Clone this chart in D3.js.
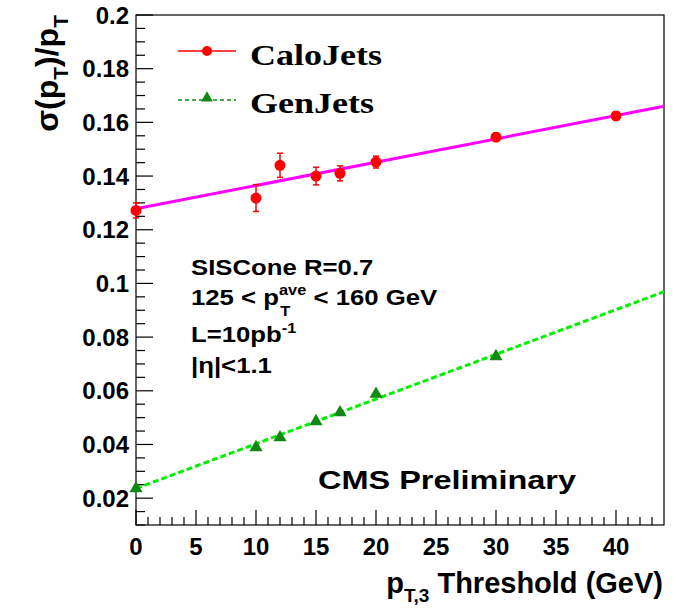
<!DOCTYPE html>
<html>
<head>
<meta charset="utf-8">
<script src="https://cdn.jsdelivr.net/npm/d3@7"></script>
<style>
  body { margin: 0; background: #fff; }
  text { font-family: "Liberation Sans", Arial, sans-serif; font-weight: bold; fill: #000; }
</style>
</head>
<body>
<div id="chart"></div>
<script>
// CaloJets points
const caloX = [0, 10, 12, 15, 17, 20, 30, 40];
const caloY = [0.1272, 0.1318, 0.1440, 0.1400, 0.1410, 0.1452, 0.1545, 0.1624];
const caloErr = [0.0028, 0.0050, 0.0045, 0.0033, 0.0028, 0.0022, 0.0015, 0.0015];
// GenJets points
const genX = [0, 10, 12, 15, 17, 20, 30];
const genY = [0.0236, 0.0389, 0.0426, 0.0486, 0.0519, 0.0588, 0.0728];
// linear fit end points
const caloFit = [[0, 0.1278], [44, 0.1660]];
const genFit = [[0, 0.0236], [44, 0.0969]];

const yTicks = [0.02, 0.04, 0.06, 0.08, 0.1, 0.12, 0.14, 0.16, 0.18, 0.2];
const xTicks = [0, 5, 10, 15, 20, 25, 30, 35, 40];

const W = 676, H = 613;
const margin = { top: 15, right: 12, bottom: 88, left: 136 };
const width = W - margin.left - margin.right;
const height = H - margin.top - margin.bottom;

const svg = d3.select("#chart").append("svg")
    .attr("width", W).attr("height", H);

const g = svg.append("g").attr("transform", `translate(${margin.left},${margin.top})`);

const x = d3.scaleLinear().domain([0, 44]).range([0, width]);
const y = d3.scaleLinear().domain([0.01, 0.2]).range([height, 0]);

// frame
g.append("rect")
    .attr("width", width).attr("height", height)
    .attr("fill", "none").attr("stroke", "#000").attr("stroke-width", 1.2);

// y ticks (inward)
const yMinor = d3.range(0.01, 0.2001, 0.005);
g.append("g").selectAll("line").data(yMinor).join("line")
    .attr("x1", 0).attr("y1", d => y(d)).attr("y2", d => y(d))
    .attr("x2", d => Math.abs(d / 0.02 - Math.round(d / 0.02)) < 1e-6 ? 17 : 9)
    .attr("stroke", "#000").attr("stroke-width", 1.2);

g.append("g").selectAll("text").data(yTicks).join("text")
    .attr("x", -7).attr("y", d => y(d))
    .attr("dy", "0.36em")
    .attr("text-anchor", "end")
    .style("font-size", "24px")
    .text(d => d3.format("")(+d.toFixed(2)));

// x ticks (inward)
const xMinor = d3.range(0, 44, 1);
g.append("g").selectAll("line").data(xMinor).join("line")
    .attr("x1", d => x(d)).attr("x2", d => x(d))
    .attr("y1", height)
    .attr("y2", d => d % 5 === 0 ? height - 15 : height - 8)
    .attr("stroke", "#000").attr("stroke-width", 1.2);

g.append("g").selectAll("text").data(xTicks).join("text")
    .attr("x", d => x(d)).attr("y", height + 30)
    .attr("text-anchor", "middle")
    .style("font-size", "24px")
    .text(d => d);

// fit lines
const line = d3.line().x(d => x(d[0])).y(d => y(d[1]));
g.append("path").datum(caloFit).attr("d", line)
    .attr("fill", "none").attr("stroke", "#ff00ff").attr("stroke-width", 3);
g.append("path").datum(genFit).attr("d", line)
    .attr("fill", "none").attr("stroke", "#00ee00").attr("stroke-width", 3)
    .attr("stroke-dasharray", "6,3");

// calo error bars and points
const calo = caloX.map((v, i) => ({ x: v, y: caloY[i], e: caloErr[i] }));
const eb = g.append("g").selectAll("g").data(calo).join("g");
eb.append("line")
    .attr("x1", d => x(d.x)).attr("x2", d => x(d.x))
    .attr("y1", d => y(d.y - d.e)).attr("y2", d => y(d.y + d.e))
    .attr("stroke", "#ff0000").attr("stroke-width", 1.5);
eb.append("line")
    .attr("x1", d => x(d.x) - 3).attr("x2", d => x(d.x) + 3)
    .attr("y1", d => y(d.y - d.e)).attr("y2", d => y(d.y - d.e))
    .attr("stroke", "#ff0000").attr("stroke-width", 1.5);
eb.append("line")
    .attr("x1", d => x(d.x) - 3).attr("x2", d => x(d.x) + 3)
    .attr("y1", d => y(d.y + d.e)).attr("y2", d => y(d.y + d.e))
    .attr("stroke", "#ff0000").attr("stroke-width", 1.5);
eb.append("circle")
    .attr("cx", d => x(d.x)).attr("cy", d => y(d.y))
    .attr("r", 5.5).attr("fill", "#ff0000");

// gen triangles
const tri = d3.symbol().type(d3.symbolTriangle).size(75);
g.append("g").selectAll("path").data(genX.map((v, i) => [v, genY[i]])).join("path")
    .attr("d", tri)
    .attr("transform", d => `translate(${x(d[0])},${y(d[1])})`)
    .attr("fill", "#118811");

// legend
const leg = svg.append("g");
leg.append("line").attr("x1", 178).attr("x2", 236).attr("y1", 51).attr("y2", 51)
    .attr("stroke", "#ff0000").attr("stroke-width", 1.3);
leg.append("circle").attr("cx", 207).attr("cy", 51).attr("r", 5).attr("fill", "#ff0000");
leg.append("line").attr("x1", 178).attr("x2", 236).attr("y1", 100).attr("y2", 100)
    .attr("stroke", "#118811").attr("stroke-width", 1.3).attr("stroke-dasharray", "4,3");
leg.append("path").attr("d", d3.symbol().type(d3.symbolTriangle).size(60))
    .attr("transform", "translate(207,98)").attr("fill", "#118811");
leg.append("text").attr("x", 250).attr("y", 65)
    .style("font-family", "'Liberation Serif', serif").style("font-size", "30px")
    .attr("textLength", 132).attr("lengthAdjust", "spacingAndGlyphs")
    .text("CaloJets");
leg.append("text").attr("x", 250).attr("y", 113)
    .style("font-family", "'Liberation Serif', serif").style("font-size", "30px")
    .attr("textLength", 124).attr("lengthAdjust", "spacingAndGlyphs")
    .text("GenJets");

// annotations, slightly stretched horizontally like the original
const ann = svg.append("g")
    .attr("transform", "translate(191,0) scale(1.17,1)")
    .style("font-size", "22px");
ann.append("text").attr("x", 0).attr("y", 275).text("SISCone R=0.7");
const t2 = ann.append("text").attr("x", 0).attr("y", 305);
const p1 = t2.append("tspan").text("125 < p");
t2.append("tspan").attr("dy", -10).style("font-size", "14px").text("ave");
t2.append("tspan").attr("dy", 10).text(" < 160 GeV");
ann.append("text").attr("x", p1.node().getComputedTextLength() + 1).attr("y", 316)
    .style("font-size", "14px").text("T");
const t3 = ann.append("text").attr("x", 0).attr("y", 342);
t3.append("tspan").text("L=10pb");
t3.append("tspan").attr("dy", -9).style("font-size", "14px").text("-1");
ann.append("text").attr("x", 0).attr("y", 373).text("|η|<1.1");

svg.append("text").attr("x", 318).attr("y", 489)
    .style("font-size", "26px")
    .attr("textLength", 258).attr("lengthAdjust", "spacingAndGlyphs")
    .text("CMS Preliminary");

// axis titles
const xt = svg.append("text").attr("x", 663).attr("y", 593)
    .attr("text-anchor", "end").style("font-size", "29px");
xt.append("tspan").text("p");
xt.append("tspan").attr("dy", 9).style("font-size", "19px").text("T,3");
xt.append("tspan").attr("dy", -9).text(" Threshold (GeV)");

const yt = svg.append("text")
    .attr("transform", "translate(58,15) rotate(-90)")
    .attr("text-anchor", "end").style("font-size", "32px");
yt.append("tspan").text("σ(p");
yt.append("tspan").attr("dy", 10).style("font-size", "21px").text("T");
yt.append("tspan").attr("dy", -10).text(")/p");
yt.append("tspan").attr("dy", 10).style("font-size", "21px").text("T");
</script>
</body>
</html>
